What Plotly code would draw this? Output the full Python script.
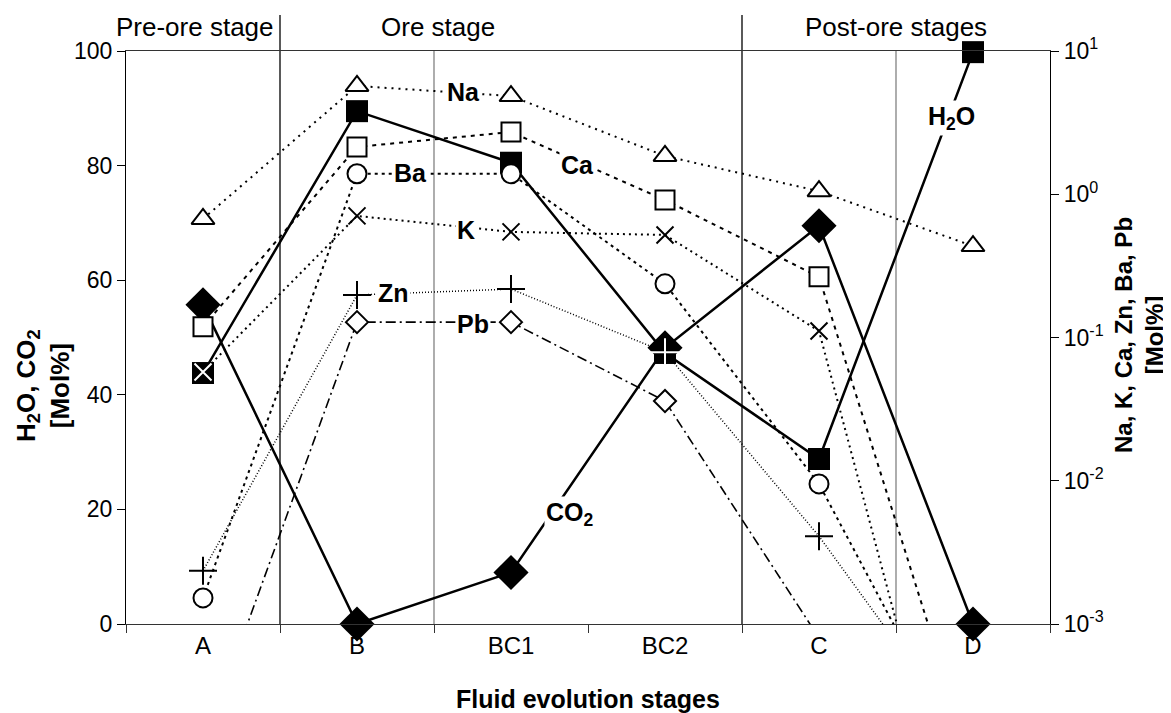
import plotly.graph_objects as go

# ---------------- data ----------------
categories = ["A", "B", "BC1", "BC2", "C", "D"]
h2o = [43.8, 89.5, 80.5, 47.3, 28.8, 99.8]
co2 = [55.7, 0.0, 9.0, 48.2, 69.5, 0.0]

na = [0.673, 5.7, 4.85, 1.85, 1.05, 0.435]
ca = [0.119, 2.14, 2.72, 0.912, 0.265, 1.0e-4]
ba = [0.00152, 1.39, 1.39, 0.237, 0.0095, 9e-5]
k = [0.0575, 0.706, 0.546, 0.52, 0.111, 1e-5]
zn = [0.00235, 0.198, 0.218, 0.079, 0.0041, 1.35e-4]
pb = [1.4e-4, 0.128, 0.128, 0.036, 8e-4, None]

left_ticks = [0, 20, 40, 60, 80, 100]
right_tickvals = [0.001, 0.01, 0.1, 1, 10]
right_ticktext = ["10<sup>-3</sup>", "10<sup>-2</sup>", "10<sup>-1</sup>",
                  "10<sup>0</sup>", "10<sup>1</sup>"]

stage_names = ["Pre-ore stage", "Ore stage", "Post-ore stages"]
major_dividers = [0.5, 3.5]   # category boundaries between stages
minor_dividers = [1.5, 4.5]

FONT = "Liberation Sans, Arial, Helvetica, sans-serif"
# marker colours for X / + drawn on top of black squares
k_colors = ["white", "black", "black", "black", "black", "black"]
zn_colors = ["black", "black", "black", "white", "black", "black"]

fig = go.Figure()

# CO2 (filled diamonds, solid)
fig.add_trace(go.Scatter(
    x=categories, y=co2, mode="lines+markers", name="CO2",
    line=dict(color="black", width=2.5),
    marker=dict(symbol="diamond", size=27, color="black"),
    cliponaxis=False, yaxis="y"))
# H2O (filled squares, solid)
fig.add_trace(go.Scatter(
    x=categories, y=h2o, mode="lines+markers", name="H2O",
    line=dict(color="black", width=2.5),
    marker=dict(symbol="square", size=22, color="black"),
    cliponaxis=False, yaxis="y"))

# minor elements on log axis
fig.add_trace(go.Scatter(
    x=categories, y=na, mode="lines+markers", name="Na",
    line=dict(color="black", width=2, dash="2px,5px"),
    marker=dict(symbol="triangle-up", size=20, color="white",
                line=dict(color="black", width=2)),
    yaxis="y2"))
fig.add_trace(go.Scatter(
    x=categories, y=ca, mode="lines+markers", name="Ca",
    line=dict(color="black", width=2, dash="4px,5px"),
    marker=dict(symbol="square", size=19, color="white",
                line=dict(color="black", width=2)),
    yaxis="y2"))
fig.add_trace(go.Scatter(
    x=categories, y=ba, mode="lines+markers", name="Ba",
    line=dict(color="black", width=2, dash="3px,4px"),
    marker=dict(symbol="circle", size=19, color="white",
                line=dict(color="black", width=2)),
    yaxis="y2"))
fig.add_trace(go.Scatter(
    x=categories, y=k, mode="lines+markers", name="K",
    line=dict(color="black", width=2, dash="2px,4px"),
    marker=dict(symbol="x-thin-open", size=17, color=k_colors,
                line=dict(width=2)),
    yaxis="y2"))
fig.add_trace(go.Scatter(
    x=categories, y=zn, mode="lines+markers", name="Zn",
    line=dict(color="black", width=1.5, dash="1px,2px"),
    marker=dict(symbol="cross-thin-open", size=20, color=zn_colors,
                line=dict(width=2)),
    yaxis="y2"))
fig.add_trace(go.Scatter(
    x=categories, y=pb, mode="lines+markers", name="Pb",
    line=dict(color="black", width=1.6, dash="10px,4px,2px,4px"),
    marker=dict(symbol="diamond", size=17, color="white",
                line=dict(color="black", width=2)),
    yaxis="y2"))

# ---------------- layout ----------------
# the html body has an 8px margin, so the figure is shifted by (8, 8)
OFF = 8
PAGE_W, PAGE_H = 1171, 713
PL, PR, PT, PB = 126, 1050, 51, 624        # plot area in page pixels
W, H = PAGE_W - OFF, PAGE_H - OFF
L, T = PL - OFF, PT - OFF
R = W - (PR - OFF)
B = H - (PB - OFF)
PW, PH = PR - PL, PB - PT


def px2paper(xp, yp):
    return (xp - PL) / PW, (PB - yp) / PH


annotations = []

# series labels
labels = [
    ("<b>Na</b>", 463, 92),
    ("<b>Ca</b>", 577, 165),
    ("<b>Ba</b>", 410, 173),
    ("<b>K</b>", 466, 230),
    ("<b>Zn</b>", 393, 293),
    ("<b>Pb</b>", 473, 324),
    ("<b>CO<sub>2</sub></b>", 570, 514),
    ("<b>H<sub>2</sub>O</b>", 951, 118),
]
for txt, xp, yp in labels:
    ax_, ay_ = px2paper(xp, yp)
    annotations.append(dict(
        text=txt, x=ax_, y=ay_, xref="paper", yref="paper",
        showarrow=False, xanchor="center", yanchor="middle",
        font=dict(family=FONT, size=25, color="black"),
        bgcolor="white", borderpad=1))

# stage titles
for name, xp in zip(stage_names, [195, 438, 896]):
    ax_, ay_ = px2paper(xp, 27)
    annotations.append(dict(
        text=name, x=ax_, y=ay_, xref="paper", yref="paper",
        showarrow=False, xanchor="center", yanchor="middle",
        font=dict(family=FONT, size=26, color="black")))

# axis titles
ax_, ay_ = px2paper(43, 386)
annotations.append(dict(
    text="<b>H<sub>2</sub>O, CO<sub>2</sub></b><br><b>[Mol%]</b>",
    x=ax_, y=ay_, xref="paper", yref="paper", showarrow=False,
    textangle=-90, xanchor="center", yanchor="middle",
    font=dict(family=FONT, size=26, color="black")))
ax_, ay_ = px2paper(1139, 335)
annotations.append(dict(
    text="<b>Na, K, Ca, Zn, Ba, Pb</b><br><b>[Mol%]</b>",
    x=ax_, y=ay_, xref="paper", yref="paper", showarrow=False,
    textangle=-90, xanchor="center", yanchor="middle",
    font=dict(family=FONT, size=24, color="black")))
ax_, ay_ = px2paper(588, 699)
annotations.append(dict(
    text="<b>Fluid evolution stages</b>",
    x=ax_, y=ay_, xref="paper", yref="paper", showarrow=False,
    xanchor="center", yanchor="middle",
    font=dict(family=FONT, size=25, color="black")))

shapes = []
top_ext = px2paper(0, 15)[1]
for xv in major_dividers:
    shapes.append(dict(type="line", xref="x", yref="paper",
                       x0=xv, x1=xv, y0=0, y1=top_ext,
                       line=dict(color="black", width=1.3), layer="below"))
for xv in minor_dividers:
    shapes.append(dict(type="line", xref="x", yref="paper",
                       x0=xv, x1=xv, y0=0, y1=1,
                       line=dict(color="#777777", width=1.2), layer="below"))

fig.update_layout(
    template="none",
    width=W, height=H,
    margin=dict(l=L, r=R, t=T, b=B, autoexpand=False),
    paper_bgcolor="white", plot_bgcolor="white",
    showlegend=False,
    font=dict(family=FONT, size=22, color="black"),
    xaxis=dict(
        type="category", categoryorder="array", categoryarray=categories,
        range=[-0.5, len(categories) - 0.5],
        showgrid=False, zeroline=False,
        showline=True, linecolor="#333333", linewidth=1.3, mirror=True,
        ticks="outside", tickson="boundaries", ticklen=8,
        tickcolor="#333333", tickwidth=1.2,
        tickfont=dict(family=FONT, size=24, color="black"),
        automargin=False),
    yaxis=dict(
        range=[0, 100], tickvals=left_ticks,
        showgrid=False, zeroline=False,
        showline=True, linecolor="black", linewidth=1.3,
        ticks="outside", ticklen=8, tickcolor="black", tickwidth=1.2,
        tickfont=dict(family=FONT, size=23, color="black"),
        automargin=False),
    yaxis2=dict(
        type="log", range=[-3, 1], overlaying="y", side="right",
        tickvals=right_tickvals, ticktext=right_ticktext,
        showgrid=False, zeroline=False,
        showline=True, linecolor="black", linewidth=1.3,
        ticks="outside", ticklen=8, tickcolor="black", tickwidth=1.2,
        tickfont=dict(family=FONT, size=23, color="black"),
        automargin=False),
    annotations=annotations,
    shapes=shapes,
)

fig.write_html("out.html")
